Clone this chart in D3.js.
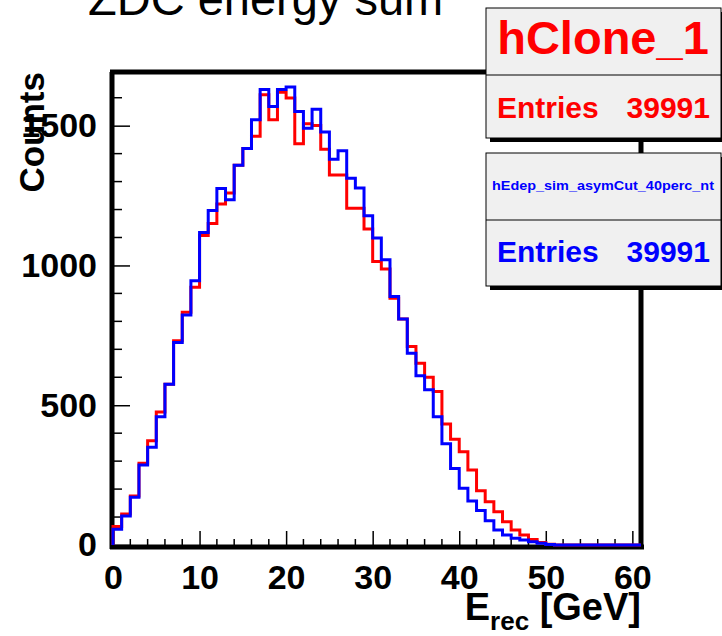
<!DOCTYPE html>
<html>
<head>
<meta charset="utf-8">
<script src="https://cdn.jsdelivr.net/npm/d3@7"></script>
<style>
  body { margin: 0; background: #fff; }
  svg text { font-family: "Liberation Sans", Arial, Helvetica, sans-serif; }
</style>
</head>
<body>
<div id="chart"></div>
<script>
// bin contents, 1 GeV bins from 0 to 61
var redCounts = [66, 111, 175, 292, 373, 476, 575, 731, 833, 922,
  1107, 1150, 1220, 1259, 1358, 1418, 1462, 1611, 1521, 1620,
  1599, 1435, 1507, 1501, 1416, 1324, 1324, 1205, 1205, 1130,
  1014, 987, 883, 808, 710, 650, 600, 549, 433, 378,
  334, 268, 194, 155, 119, 83, 54, 36, 20, 9,
  3, 0, 0, 0, 0, 0, 0, 0, 0, 0, 0];
var blueCounts = [56, 104, 171, 286, 350, 459, 575, 724, 823, 945,
  1118, 1197, 1275, 1235, 1358, 1418, 1521, 1629, 1569, 1629,
  1638, 1551, 1491, 1559, 1477, 1380, 1410, 1312, 1277, 1178,
  1098, 1020, 889, 808, 686, 605, 555, 459, 362, 274,
  203, 157, 123, 87, 54, 36, 24, 18, 12, 6,
  2, 0, 0, 0, 0, 0, 0, 0, 0, 0, 0];
var xTicks = [0, 10, 20, 30, 40, 50, 60];
var yTicks = [0, 500, 1000, 1500];
var redName = "hClone_1", blueName = "hEdep_sim_asymCut_40perc_nt";
var redEntries = "39991", blueEntries = "39991";

const w = 722, h = 636;
const padL = 113, padR = 641, padT = 72, padB = 545;

const svg = d3.select("#chart").append("svg")
  .attr("width", w).attr("height", h);

const x = d3.scaleLinear().domain([0, 61]).range([padL, padR]);
const y = d3.scaleLinear().domain([0, 1692]).range([padB, padT]);

// title (clipped at the top like the original)
svg.append("text")
  .attr("x", 88).attr("y", 15)
  .attr("font-size", 47)
  .text("ZDC energy sum");

// frame
svg.append("rect")
  .attr("x", padL).attr("y", padT)
  .attr("width", padR - padL).attr("height", padB - padT)
  .attr("fill", "#fff");
var frame = svg.append("g").attr("stroke", "#000").attr("stroke-width", 5);
frame.append("line").attr("x1", padL - 3).attr("x2", padR + 3).attr("y1", padT).attr("y2", padT);
frame.append("line").attr("x1", padR).attr("x2", padR).attr("y1", padT).attr("y2", padB + 4);
frame.append("line").attr("x1", padL - 1).attr("x2", padL - 1).attr("y1", padT).attr("y2", padB + 4);
frame.append("line").attr("x1", padL - 3).attr("x2", padR + 3).attr("y1", padB + 2).attr("y2", padB + 2);

// minor ticks
var xMinor = d3.range(0, 61, 2).filter(d => d % 10 != 0);
var yMinor = d3.range(0, 1692, 100).filter(d => d % 500 != 0);
svg.append("g").selectAll("line").data(xMinor).enter().append("line")
  .attr("x1", d => x(d)).attr("x2", d => x(d))
  .attr("y1", padB).attr("y2", padB - 6)
  .attr("stroke", "#000").attr("stroke-width", 1.5);
svg.append("g").selectAll("line").data(yMinor).enter().append("line")
  .attr("y1", d => y(d)).attr("y2", d => y(d))
  .attr("x1", padL).attr("x2", padL + 9)
  .attr("stroke", "#000").attr("stroke-width", 1.5);

// axes
const xAxis = d3.axisBottom(x).tickValues(xTicks).tickSize(-14).tickPadding(20).tickFormat(d3.format("d"));
const yAxis = d3.axisLeft(y).tickValues(yTicks).tickSize(-17).tickPadding(16).tickFormat(d3.format("d"));

var gx = svg.append("g").attr("transform", "translate(0," + padB + ")").call(xAxis);
var gy = svg.append("g").attr("transform", "translate(" + padL + ",0)").call(yAxis);
[gx, gy].forEach(function(g) {
  g.select(".domain").remove();
  g.selectAll(".tick line").attr("stroke", "#000").attr("stroke-width", 1.5);
  g.selectAll(".tick text")
    .attr("fill", "#000")
    .attr("font-size", 34)
    .attr("font-weight", "bold")
    .attr("font-family", "Liberation Sans, Arial, sans-serif");
});

// histograms
function stepPoints(counts) {
  var pts = [[0, 0]];
  counts.forEach(function(v, i) {
    pts.push([i, v]);
    pts.push([i + 1, v]);
  });
  pts.push([counts.length, 0]);
  return pts;
}
const line = d3.line().x(d => x(d[0])).y(d => y(d[1]));

svg.append("path")
  .attr("d", line(stepPoints(redCounts)))
  .attr("fill", "none").attr("stroke", "#ff0000").attr("stroke-width", 3)
  .attr("stroke-linejoin", "miter");
svg.append("path")
  .attr("d", line(stepPoints(blueCounts)))
  .attr("fill", "none").attr("stroke", "#0000ff").attr("stroke-width", 3)
  .attr("stroke-linejoin", "miter");

// axis titles
var xt = svg.append("text")
  .attr("x", padR).attr("y", 620)
  .attr("text-anchor", "end")
  .attr("font-size", 38).attr("font-weight", "bold");
xt.append("tspan").text("E");
xt.append("tspan").attr("font-size", 26).attr("dy", 10).text("rec");
xt.append("tspan").attr("dy", -10).text(" [GeV]");

svg.append("text")
  .attr("transform", "translate(44," + padT + ") rotate(-90)")
  .attr("text-anchor", "end")
  .attr("font-size", 35).attr("font-weight", "bold")
  .text("Counts");

// stats boxes
function statsBox(y0, y1, yDiv, color, name, nameSize, entries, nameBase, entBase) {
  var g = svg.append("g");
  g.append("rect").attr("x", 490).attr("y", y0 + 4)
    .attr("width", 240).attr("height", y1 - y0).attr("fill", "#000");
  g.append("rect").attr("x", 486).attr("y", y0)
    .attr("width", 235).attr("height", y1 - y0)
    .attr("fill", "#f0f0f0").attr("stroke", "#000").attr("stroke-width", 1);
  g.append("line").attr("x1", 486).attr("x2", 721).attr("y1", yDiv).attr("y2", yDiv)
    .attr("stroke", "#000").attr("stroke-width", 1);
  var t = g.append("text").attr("x", 603).attr("y", nameBase)
    .attr("text-anchor", "middle").attr("fill", color)
    .attr("font-weight", "bold").attr("font-size", nameSize)
    .text(name);
  if (nameSize < 20) t.attr("textLength", 222).attr("lengthAdjust", "spacingAndGlyphs");
  g.append("text").attr("x", 497).attr("y", entBase)
    .attr("fill", color).attr("font-weight", "bold").attr("font-size", 30)
    .text("Entries");
  g.append("text").attr("x", 710).attr("y", entBase)
    .attr("text-anchor", "end")
    .attr("fill", color).attr("font-weight", "bold").attr("font-size", 30)
    .text(entries);
}
statsBox(8, 138, 75, "#ff0000", redName, 47, redEntries, 54, 118);
statsBox(153, 286, 220, "#0000ff", blueName, 13, blueEntries, 190, 262);
</script>
</body>
</html>
